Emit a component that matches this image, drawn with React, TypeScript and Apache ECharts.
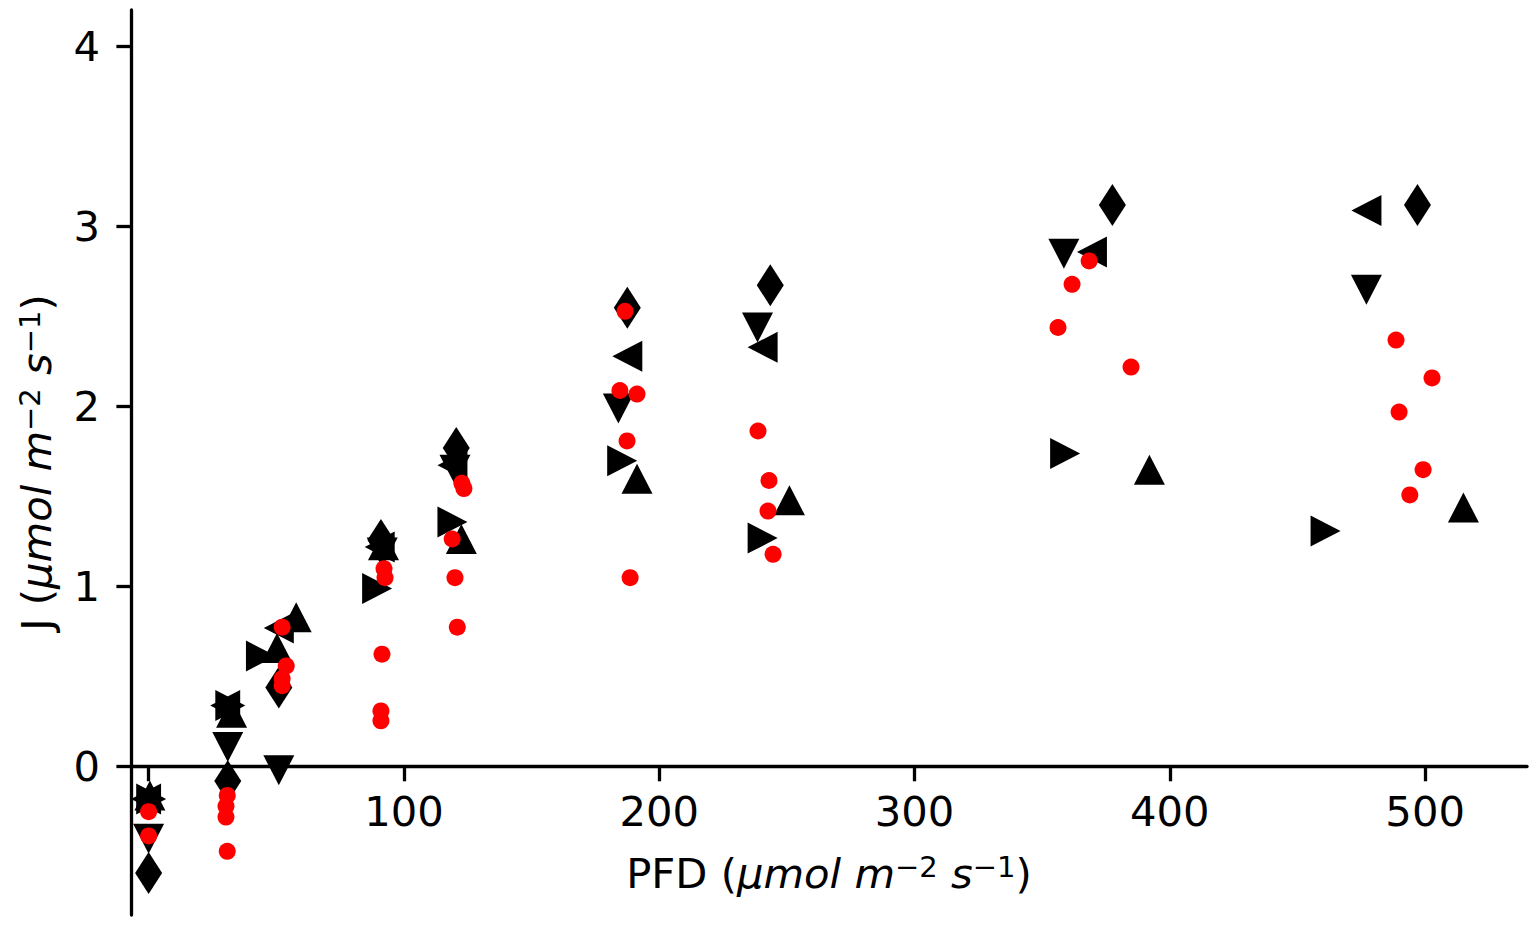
import React, { useEffect, useRef } from "react";
import * as echarts from "echarts";

// Measured replicates (black markers), [PFD, J]
const diamondPts: [number, number][] = [
  [0, -0.59], [31, -0.08], [51, 0.44], [91, 1.26], [120.5, 1.77],
  [187.5, 2.55], [243.5, 2.675], [377.5, 3.12], [497, 3.12],
];
const leftPts: [number, number][] = [
  [-1, -0.18], [30, 0.34], [51, 0.77], [90.5, 1.22], [119, 1.675],
  [187.5, 2.28], [240.5, 2.33], [369.5, 2.86], [477, 3.09],
];
const downPts: [number, number][] = [
  [0, -0.4], [31, 0.11], [51, -0.02], [91.5, 1.19], [120, 1.65],
  [184, 1.99], [238.5, 2.44], [358.5, 2.85], [477, 2.65],
];
const rightPts: [number, number][] = [
  [1, -0.18], [32, 0.34], [44, 0.615], [89.5, 0.99], [119, 1.36],
  [185.5, 1.7], [240.5, 1.27], [359, 1.74], [461, 1.31],
];
const upPts: [number, number][] = [
  [0.5, -0.16], [32.5, 0.3], [50.3, 0.66], [57.8, 0.83], [92, 1.23], [122.5, 1.265],
  [191.3, 1.6], [251, 1.48], [392, 1.65], [515, 1.44],
];
// Red circles
const redPts: [number, number][] = [
  [0, -0.25], [0, -0.385],
  [30.8, -0.16], [30.3, -0.22], [30.3, -0.28], [30.8, -0.47],
  [52.3, 0.775], [53.9, 0.56], [52.3, 0.49], [52.3, 0.45],
  [92.2, 1.1], [92.6, 1.05], [91.4, 0.625], [91, 0.31], [91, 0.255],
  [122.7, 1.575], [123.5, 1.545], [118.9, 1.265], [120, 1.05], [120.9, 0.775],
  [186.6, 2.53], [184.6, 2.09], [191.3, 2.07], [187.4, 1.81], [188.6, 1.05],
  [238.7, 1.865], [243, 1.59], [242.6, 1.42], [244.6, 1.18],
  [361.7, 2.68], [368.4, 2.81], [356.2, 2.44], [384.8, 2.22],
  [488.6, 2.37], [489.8, 1.97], [502.7, 2.16], [499.2, 1.65], [494, 1.51],
];

const xTicks = [0, 100, 200, 300, 400, 500];
const xTickLabels = [100, 200, 300, 400, 500];
const yTicks = [0, 1, 2, 3, 4];

const Y_MIN = -0.824;
const Y_MAX = 4.204;

const FONT = "DejaVu Sans";
const FS = 41.7;

const richName = {
  n: { fontSize: FS, fontFamily: FONT, color: "#000" },
  i: { fontSize: FS, fontFamily: FONT, fontStyle: "italic", color: "#000" },
  s: { fontSize: 29, fontFamily: FONT, fontStyle: "normal", color: "#000", verticalAlign: "top" },
};

const GRID_TOP = 10;
const GRID_H = 905;

export default function App() {
  const ref = useRef<HTMLDivElement>(null);
  useEffect(() => {
    if (!ref.current) return;
    const chart = echarts.init(ref.current, null, { renderer: "svg" });
    const black = "#000000";
    const sc = (data: [number, number][], symbol: string, size: number[] | number, color: string) => ({
      type: "scatter",
      data,
      symbol,
      symbolSize: size,
      itemStyle: { color, opacity: 1 },
      emphasis: { disabled: true },
      silent: true,
    });
    // distance from grid bottom up to the y=0 line, so the x axis sits on zero
    const zeroOffset = -(GRID_H * (0 - Y_MIN)) / (Y_MAX - Y_MIN);
    chart.setOption({
      animation: false,
      backgroundColor: "#ffffff",
      grid: {
        left: 131,
        top: GRID_TOP,
        width: 1396,
        height: GRID_H,
        containLabel: false,
        outerBoundsMode: "none",
      },
      xAxis: {
        type: "value",
        min: -6.9,
        max: 539.9,
        offset: zeroOffset,
        splitLine: { show: false },
        axisLine: { show: true, onZero: false, lineStyle: { color: "#000", width: 3.3 } },
        axisTick: { show: true, customValues: xTicks, length: 14.6, lineStyle: { color: "#000", width: 3.3 } },
        axisLabel: {
          customValues: xTickLabels,
          fontSize: FS,
          fontFamily: FONT,
          color: "#000",
          margin: 24,
        },
        name: "{n|PFD (}{i|μmol m}{s|−2}{i| s}{s|−1}{n|)}",
        nameLocation: "middle",
        nameGap: 86,
        nameTextStyle: { fontSize: FS, fontFamily: FONT, color: "#000", rich: richName },
      },
      yAxis: {
        type: "value",
        min: Y_MIN,
        max: Y_MAX,
        splitLine: { show: false },
        axisLine: { show: true, onZero: false, lineStyle: { color: "#000", width: 3.3 } },
        axisTick: { show: true, customValues: yTicks, length: 14.6, lineStyle: { color: "#000", width: 3.3 } },
        axisLabel: {
          customValues: yTicks,
          fontSize: FS,
          fontFamily: FONT,
          color: "#000",
          margin: 31,
        },
        name: "{n|J (}{i|μmol m}{s|−2}{i| s}{s|−1}{n|)}",
        nameLocation: "middle",
        nameGap: 74,
        nameTextStyle: { fontSize: FS, fontFamily: FONT, color: "#000", rich: richName },
      },
      series: [
        sc(diamondPts, "diamond", [27, 42], black),
        sc(leftPts, "path://M10,0L0,5L10,10Z", [30, 31], black),
        sc(downPts, "path://M0,0L10,0L5,10Z", [31, 30], black),
        sc(rightPts, "path://M0,0L10,5L0,10Z", [30, 31], black),
        sc(upPts, "triangle", [31, 30], black),
        sc(redPts, "circle", 17, "#ff0000"),
      ],
    });
    return () => chart.dispose();
  }, []);
  return (
    <div
      ref={ref}
      style={{ position: "fixed", left: 0, top: 0, width: 1533, height: 925, background: "#fff" }}
    />
  );
}
